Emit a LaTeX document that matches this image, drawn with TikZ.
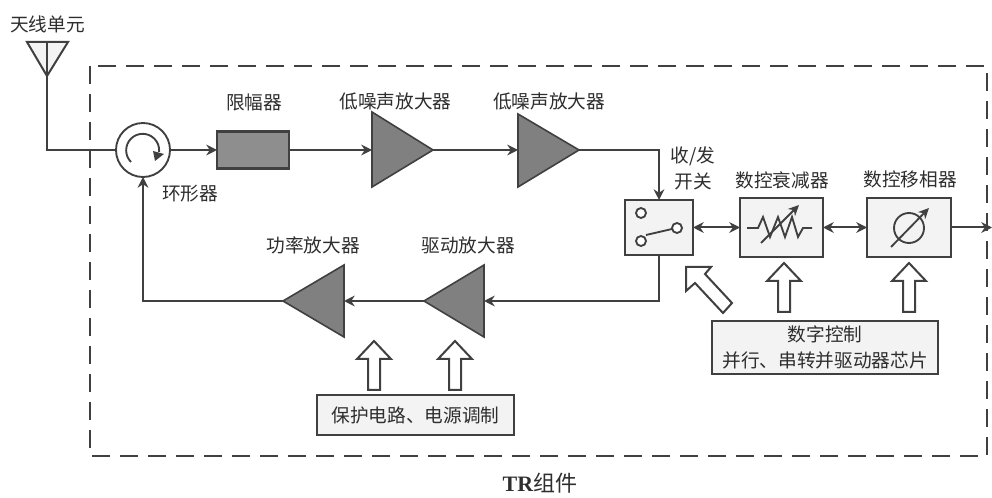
\documentclass[tikz,border=0pt]{standalone}
\usepackage{fontspec}
\setmainfont{Noto Sans CJK SC}
\newfontfamily\latinbold{Liberation Serif}
\usetikzlibrary{arrows.meta,calc}
\definecolor{ink}{HTML}{404040}
\definecolor{txt}{HTML}{2E2E2E}
\definecolor{panel}{HTML}{F3F3F3}
\definecolor{amp}{HTML}{808080}
\definecolor{lim}{HTML}{8E8E8E}
\tikzset{
  wire/.style={draw=ink,line width=1.5pt},
  flow/.style={wire,-{Stealth[length=8pt,width=8pt]}},
  both/.style={wire,{Stealth[length=8pt,width=8pt]}-{Stealth[length=8pt,width=8pt]}},
  blk/.style 2 args={draw=ink,line width=1.8pt,fill=panel,inner sep=0pt,outer sep=0pt,
    minimum width=#1*0.75pt,minimum height=#2*0.75pt,text=txt,font=\fontsize{14}{19}\selectfont,align=center},
  lab/.style={text=txt,font=\fontsize{14}{18}\selectfont,inner sep=0pt,align=center},
  ampf/.style={draw=ink,line width=1.2pt,fill=amp,line join=miter},
  sym/.style={draw=ink,line width=1.4pt},
  hollow/.style={draw=ink,line width=1.5pt,fill=white,line join=miter},
  upar/.pic={\path[hollow] (-6,0) -- (-6,-31) -- (-17,-31) -- (0,-49) -- (17,-31) -- (6,-31) -- (6,0) -- cycle;}
}
\begin{document}
\begin{tikzpicture}[x=0.75pt,y=-0.75pt]
\useasboundingbox (0,0) rectangle (992,498);
\fill[white] (0,0) rectangle (992,498);
% group outline
\draw[draw=ink,line width=1.5pt,dash pattern=on 13.5pt off 7.5pt] (90,66) rectangle (987,456);
% antenna
\coordinate (antB) at (47,76);
\coordinate (antT) at (47,42);
\draw[sym,line width=1.5pt,fill=panel] (27,42) -- (68,42) -- (antB) -- cycle;
\draw[wire] (antT) -- (antB);
% circulator
\node[circle,draw=ink,line width=1.4pt,fill=white,minimum size=54*0.75pt,inner sep=0pt,outer sep=0pt] (circ) at (143,150) {};
\draw[sym] (131,162) arc[start angle=135,end angle=365,radius=16.5];
\fill[ink] (153,151) -- (164,154) -- (155,161) -- cycle;
% limiter
\node[blk={72}{37},fill=lim] (limit) at (253,150) {};
% amplifiers
\coordinate (a1in) at (372,150); \coordinate (a1out) at (433,150);
\coordinate (a2in) at (518,150); \coordinate (a2out) at (579,150);
\coordinate (a3in) at (484,301); \coordinate (a3out) at (424,301);
\coordinate (a4in) at (344,301); \coordinate (a4out) at (283,301);
\draw[ampf] (372,112) -- (a1out) -- (372,187) -- cycle;
\draw[ampf] (518,114) -- (a2out) -- (518,187) -- cycle;
\draw[ampf] (484,265) -- (a3out) -- (484,337) -- cycle;
\draw[ampf] (344,265) -- (a4out) -- (344,337) -- cycle;
% blocks
\node[blk={68}{55}] (sw) at (659,227.5) {};
\node[blk={83}{59}] (att) at (781.5,227.5) {};
\node[blk={84}{59}] (ph) at (909,227.5) {};
\node[blk={197}{40}] (prot) at (415.5,415) {保护电路、电源调制};
\node[blk={226}{53}] (dig) at (825,347.5) {数字控制\\并行、串转并驱动器芯片};
% switch symbol
\draw[sym,fill=white] (641,213) circle[radius=5];
\draw[sym,fill=white] (641,241) circle[radius=5];
\draw[sym,fill=white] (677,228) circle[radius=5];
\draw[sym] (646,235) -- (672,229);
% attenuator symbol
\draw[sym,line join=miter] (747,228) -- (758,228) -- (763,217) -- (770,237) -- (778,217) -- (785,237) -- (792,217) -- (798,237) -- (803,228) -- (812,228);
\draw[sym,-{Stealth[length=8pt,width=7.5pt]}] (761,243) -- (799,205);
% phase shifter symbol
\draw[sym] (909,228) circle[radius=15];
\draw[sym,-{Stealth[length=8pt,width=7.5pt]}] (891,247) -- (929,208);
% connectors
\coordinate (edge) at (992,227.5);
\draw[wire] (antB) |- (circ.west);
\draw[flow] (circ.east) -- (limit.west);
\draw[flow] (limit.east) -- (a1in);
\draw[flow] (a1out) -- (a2in);
\draw[flow] (a2out) -| (sw.north);
\draw[both] (sw.east) -- (att.west);
\draw[both] (att.east) -- (ph.west);
\draw[flow] (ph.east) -- (edge);
\draw[flow] (sw.south) |- (a3in);
\draw[flow] (a3out) -- (a4in);
\draw[flow] (a4out) -| (circ.south);
% hollow arrows
\pic at (374,390) {upar};
\pic at (455,390) {upar};
\pic at (784,312) {upar};
\pic at (909,312) {upar};
\path[hollow] (686,267) -- (711,267) -- (705,274) -- (732,303) -- (723,313) -- (695,283) -- (686,291) -- cycle;
% labels
\node[lab] (l1) at (47.5,24) {天线单元};
\node[lab] (l2) at (254,102) {限幅器};
\node[lab] (l3) at (395.5,101) {低噪声放大器};
\node[lab] (l4) at (549,101) {低噪声放大器};
\node[lab] (l5) at (190,194) {环形器};
\node[lab] (l6) at (693,156) {收/发};
\node[lab] (l7) at (693,181) {开关};
\node[lab] (l8) at (782,180) {数控衰减器};
\node[lab] (l9) at (910,179) {数控移相器};
\node[lab] (l10) at (313,245) {功率放大器};
\node[lab] (l11) at (468,245) {驱动放大器};
\node[lab,font=\fontsize{16.5}{18}\selectfont] (l12) at (540,483) {{\latinbold\bfseries TR}组件};
\end{tikzpicture}
\end{document}
